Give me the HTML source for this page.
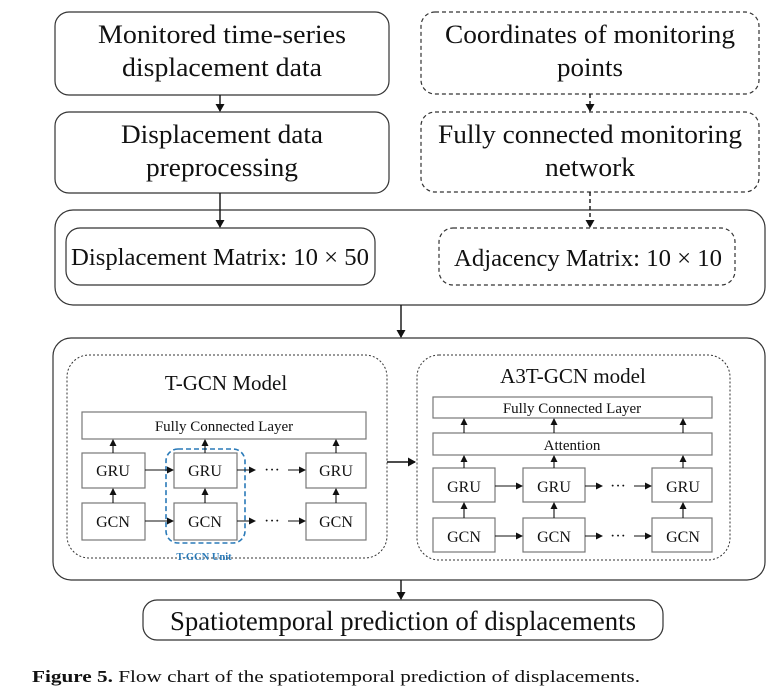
<!DOCTYPE html>
<html><head><meta charset="utf-8"><style>
html,body{margin:0;padding:0;background:#fff;}
svg{display:block;}
text{font-family:"Liberation Serif",serif;fill:#111;}
</style></head><body>
<svg width="784" height="696" viewBox="0 0 784 696" xmlns="http://www.w3.org/2000/svg">
<defs>
<marker id="a" markerWidth="8" markerHeight="9" refX="7" refY="4.5" orient="auto" markerUnits="userSpaceOnUse"><path d="M0,0 L8,4.5 L0,9 z" fill="#111"/></marker>
<marker id="s" markerWidth="7" markerHeight="7" refX="6" refY="3.5" orient="auto" markerUnits="userSpaceOnUse"><path d="M0,0 L7,3.5 L0,7 z" fill="#111"/></marker>
</defs>
<g fill="none" stroke="#333" stroke-width="1.2">
<rect x="55" y="12" width="334" height="83" rx="14"/>
<rect x="421" y="12" width="338" height="82" rx="14" stroke-dasharray="4,3"/>
<rect x="55" y="112" width="334" height="81" rx="14"/>
<rect x="421" y="112" width="338" height="80" rx="14" stroke-dasharray="4,3"/>
<rect x="55" y="210" width="710" height="95" rx="18"/>
<rect x="66" y="228" width="309" height="57" rx="14"/>
<rect x="439" y="228" width="296" height="57" rx="14" stroke-dasharray="4,3"/>
<rect x="53" y="338" width="712" height="242" rx="18"/>
<rect x="67" y="355" width="320" height="203" rx="22" stroke-dasharray="2,2" stroke-width="1"/>
<rect x="417" y="355" width="313" height="205" rx="22" stroke-dasharray="2,2" stroke-width="1"/>
<rect x="143" y="600" width="520" height="40" rx="14"/>
</g>
<g stroke="#111" stroke-width="1.4" fill="none">
<line x1="220" y1="95" x2="220" y2="111" marker-end="url(#a)"/>
<line x1="590" y1="94" x2="590" y2="111" stroke-dasharray="4,3" marker-end="url(#a)"/>
<line x1="220" y1="193" x2="220" y2="227" marker-end="url(#a)"/>
<line x1="590" y1="192" x2="590" y2="227" stroke-dasharray="4,3" marker-end="url(#a)"/>
<line x1="401" y1="305" x2="401" y2="337" marker-end="url(#a)"/>
<line x1="401" y1="580" x2="401" y2="599" marker-end="url(#a)"/>
<line x1="387" y1="462" x2="415" y2="462" marker-end="url(#a)"/>
</g>
<g font-size="26" text-anchor="middle">
<text x="222" y="43" textLength="248" lengthAdjust="spacingAndGlyphs">Monitored  time-series</text>
<text x="222" y="76" textLength="200" lengthAdjust="spacingAndGlyphs">displacement data</text>
<text x="590" y="43" textLength="290" lengthAdjust="spacingAndGlyphs">Coordinates of monitoring</text>
<text x="590" y="76" textLength="66" lengthAdjust="spacingAndGlyphs">points</text>
<text x="222" y="143" textLength="202" lengthAdjust="spacingAndGlyphs">Displacement data</text>
<text x="222" y="176" textLength="152" lengthAdjust="spacingAndGlyphs">preprocessing</text>
<text x="590" y="143" textLength="304" lengthAdjust="spacingAndGlyphs">Fully connected monitoring</text>
<text x="590" y="176" textLength="90" lengthAdjust="spacingAndGlyphs">network</text>
<text x="220" y="265" font-size="24" textLength="298" lengthAdjust="spacingAndGlyphs">Displacement Matrix: 10 × 50</text>
<text x="588" y="266" font-size="24" textLength="268" lengthAdjust="spacingAndGlyphs">Adjacency Matrix: 10 × 10</text>
<text x="403" y="630" font-size="27" textLength="466" lengthAdjust="spacingAndGlyphs">Spatiotemporal prediction of displacements</text>
<text x="226" y="390" font-size="21">T-GCN Model</text>
<text x="573" y="383" font-size="21">A3T-GCN model</text>
</g>
<g fill="#fff" stroke="#777" stroke-width="1.2">
<rect x="82" y="412" width="284" height="27"/>
<rect x="82" y="453" width="63" height="35"/><rect x="174" y="453" width="63" height="35"/><rect x="306" y="453" width="60" height="35"/>
<rect x="82" y="503" width="63" height="37"/><rect x="174" y="503" width="63" height="37"/><rect x="306" y="503" width="60" height="37"/>
</g>
<rect x="166" y="449" width="79" height="94" rx="12" fill="none" stroke="#2a7ab8" stroke-width="1.6" stroke-dasharray="5,3"/>
<g stroke="#111" stroke-width="1.1" fill="none">
<line x1="113" y1="453" x2="113" y2="440" marker-end="url(#s)"/>
<line x1="205" y1="453" x2="205" y2="440" marker-end="url(#s)"/>
<line x1="336" y1="453" x2="336" y2="440" marker-end="url(#s)"/>
<line x1="113" y1="503" x2="113" y2="489" marker-end="url(#s)"/>
<line x1="205" y1="503" x2="205" y2="489" marker-end="url(#s)"/>
<line x1="336" y1="503" x2="336" y2="489" marker-end="url(#s)"/>
<line x1="145" y1="470" x2="173" y2="470" marker-end="url(#s)"/>
<line x1="237" y1="470" x2="255" y2="470" marker-end="url(#s)"/>
<line x1="288" y1="470" x2="305" y2="470" marker-end="url(#s)"/>
<line x1="145" y1="521" x2="173" y2="521" marker-end="url(#s)"/>
<line x1="237" y1="521" x2="255" y2="521" marker-end="url(#s)"/>
<line x1="288" y1="521" x2="305" y2="521" marker-end="url(#s)"/>
</g>
<g font-size="16" text-anchor="middle">
<text x="224" y="431" font-size="15">Fully Connected Layer</text>
<text x="113" y="476">GRU</text><text x="205" y="476">GRU</text><text x="336" y="476">GRU</text>
<text x="113" y="527">GCN</text><text x="205" y="527">GCN</text><text x="336" y="527">GCN</text>
<text x="272" y="475">···</text><text x="272" y="526">···</text>
<text x="204" y="560" font-size="10.5" font-weight="bold" style="fill:#2a7ab8">T-GCN Unit</text>
</g>
<g fill="#fff" stroke="#777" stroke-width="1.2">
<rect x="433" y="397" width="279" height="21"/>
<rect x="433" y="433" width="279" height="22"/>
<rect x="433" y="468" width="62" height="34"/><rect x="523" y="468" width="62" height="34"/><rect x="652" y="468" width="60" height="34"/>
<rect x="433" y="518" width="62" height="34"/><rect x="523" y="518" width="62" height="34"/><rect x="652" y="518" width="60" height="34"/>
</g>
<g stroke="#111" stroke-width="1.1" fill="none">
<line x1="464" y1="433" x2="464" y2="419" marker-end="url(#s)"/>
<line x1="554" y1="433" x2="554" y2="419" marker-end="url(#s)"/>
<line x1="683" y1="433" x2="683" y2="419" marker-end="url(#s)"/>
<line x1="464" y1="468" x2="464" y2="456" marker-end="url(#s)"/>
<line x1="554" y1="468" x2="554" y2="456" marker-end="url(#s)"/>
<line x1="683" y1="468" x2="683" y2="456" marker-end="url(#s)"/>
<line x1="464" y1="518" x2="464" y2="503" marker-end="url(#s)"/>
<line x1="554" y1="518" x2="554" y2="503" marker-end="url(#s)"/>
<line x1="683" y1="518" x2="683" y2="503" marker-end="url(#s)"/>
<line x1="495" y1="486" x2="522" y2="486" marker-end="url(#s)"/>
<line x1="585" y1="486" x2="602" y2="486" marker-end="url(#s)"/>
<line x1="634" y1="486" x2="651" y2="486" marker-end="url(#s)"/>
<line x1="495" y1="536" x2="522" y2="536" marker-end="url(#s)"/>
<line x1="585" y1="536" x2="602" y2="536" marker-end="url(#s)"/>
<line x1="634" y1="536" x2="651" y2="536" marker-end="url(#s)"/>
</g>
<g font-size="16" text-anchor="middle">
<text x="572" y="413" font-size="15">Fully Connected Layer</text>
<text x="572" y="450" font-size="15">Attention</text>
<text x="464" y="492">GRU</text><text x="554" y="492">GRU</text><text x="683" y="492">GRU</text>
<text x="464" y="542">GCN</text><text x="554" y="542">GCN</text><text x="683" y="542">GCN</text>
<text x="618" y="491">···</text><text x="618" y="541">···</text>
</g>
<text x="32" y="682" font-size="17" textLength="608" lengthAdjust="spacingAndGlyphs"><tspan font-weight="bold">Figure 5.</tspan> Flow chart of the spatiotemporal prediction of displacements.</text>
</svg>
</body></html>
